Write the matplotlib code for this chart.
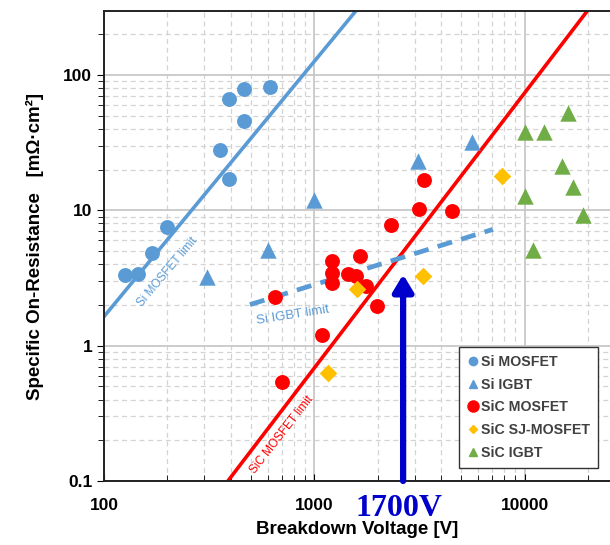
import matplotlib
matplotlib.use("Agg")
import matplotlib.pyplot as plt
from matplotlib.ticker import LogLocator, FixedLocator, NullFormatter
from matplotlib.lines import Line2D

plt.rcParams['font.family'] = ['Liberation Sans', 'DejaVu Sans']

# ---- data ----
si_mosfet_x = [126, 145, 169, 199, 356, 392, 392, 462, 462, 615]
si_mosfet_y = [3.3, 3.4, 4.8, 7.5, 28, 17, 66, 46, 79, 81]

si_igbt_x = [310, 600, 1000, 3100, 5600]
si_igbt_y = [3.2, 5.1, 12, 23, 32]

sic_mosfet_x = [650, 700, 1090, 1210, 1210, 1210, 1440, 1570, 1650, 1760, 1980, 2310, 3140, 3310, 4500]
sic_mosfet_y = [2.27, 0.54, 1.19, 4.19, 3.47, 2.88, 3.36, 3.25, 4.56, 2.78, 1.98, 7.74, 10.2, 16.7, 9.84]

sic_sj_x = [1160, 1590, 3280, 7780]
sic_sj_y = [0.63, 2.6, 3.25, 17.9]

sic_igbt_x = [10000, 12400, 16000, 10000, 15000, 16900, 18900, 10900]
sic_igbt_y = [37.8, 37.8, 52.3, 12.7, 21.2, 14.8, 9.3, 5.1]

si_mosfet_limit_x = [100, 1590]
si_mosfet_limit_y = [1.64, 303]
sic_mosfet_limit_x = [388, 19900]
sic_mosfet_limit_y = [0.1, 300]
si_igbt_limit_x = [494, 7050]
si_igbt_limit_y = [2.01, 7.23]

arrow_x = 2640
arrow_y = [0.1, 3.36]

x_ticks = [100, 1000, 10000]
x_ticklabels = ['100', '1000', '10000']
y_ticks = [0.1, 1, 10, 100]
y_ticklabels = ['0.1', '1', '10', '100']

BLUE = '#5B9BD5'
RED = '#FF0000'
YELLOW = '#FFC000'
GREEN = '#70AD47'

fig = plt.figure(figsize=(6.10, 5.45), dpi=100)
ax = fig.add_axes([104/610, 1-481/545, 1-104/610, (481-11)/545])
ax.set_xscale('log')
ax.set_yscale('log')
ax.set_xlim(100, 25400)
ax.set_ylim(0.1, 297)

# grid
ax.set_axisbelow(True)
ax.grid(True, which='major', color='#C8C8C8', lw=1.3, ls='-')
ax.grid(True, which='minor', color='#D3D3D3', lw=0.9, ls=(0, (4, 3)))

# limit lines
ax.plot(si_mosfet_limit_x, si_mosfet_limit_y, color=BLUE, lw=2.6, zorder=2)
ax.plot(sic_mosfet_limit_x, sic_mosfet_limit_y, color=RED, lw=2.6, zorder=2)
ax.plot(si_igbt_limit_x, si_igbt_limit_y, color=BLUE, lw=3.4, ls=(0, (3.2, 2.0)), zorder=2)

# points
ax.scatter(si_mosfet_x, si_mosfet_y, s=115, marker='o', color=BLUE, zorder=3, linewidths=0)
ax.scatter(si_igbt_x, si_igbt_y, s=140, marker='^', color=BLUE, zorder=3, linewidths=0)
ax.scatter(sic_mosfet_x, sic_mosfet_y, s=115, marker='o', color=RED, zorder=3, linewidths=0)
ax.scatter(sic_sj_x, sic_sj_y, s=80, marker='D', color=YELLOW, zorder=3, linewidths=0)
ax.scatter(sic_igbt_x, sic_igbt_y, s=140, marker='^', color=GREEN, zorder=3, linewidths=0)

# line labels
ax.text(200, 3.5, 'Si MOSFET limit', color=BLUE, fontsize=8.5, rotation=50,
        ha='center', va='center', rotation_mode='anchor')
ax.text(790, 1.67, 'Si IGBT limit', color=BLUE, fontsize=9.5, rotation=9,
        ha='center', va='center', rotation_mode='anchor')
ax.text(700, 0.22, 'SiC MOSFET limit', color=RED, fontsize=8.5, rotation=52,
        ha='center', va='center', rotation_mode='anchor')

# arrow annotation
ax.annotate('', xy=(arrow_x, arrow_y[1]), xytext=(arrow_x, arrow_y[0]),
            arrowprops=dict(arrowstyle='-|>,head_length=1.0,head_width=0.6',
                            color='#0000CC', lw=4.5, shrinkA=0, shrinkB=0),
            annotation_clip=False, zorder=5)
ax.annotate('1700V', xy=(arrow_x, 0.1), xytext=(-3, -9), textcoords='offset points',
            color='#0000CC', fontsize=23, fontweight='bold',
            family=['Liberation Serif', 'DejaVu Serif'],
            ha='center', va='top', annotation_clip=False)

# axes styling
ax.xaxis.set_major_locator(FixedLocator(x_ticks))
ax.set_xticklabels(x_ticklabels)
ax.yaxis.set_major_locator(FixedLocator(y_ticks))
ax.set_yticklabels(y_ticklabels)
ax.xaxis.set_minor_locator(LogLocator(base=10, subs=range(2, 10)))
ax.yaxis.set_minor_locator(LogLocator(base=10, subs=range(2, 10)))
ax.xaxis.set_minor_formatter(NullFormatter())
ax.yaxis.set_minor_formatter(NullFormatter())
ax.tick_params(axis='x', which='both', direction='in', labelsize=12.5, pad=12)
ax.tick_params(axis='x', which='major', length=5)
ax.tick_params(axis='x', which='minor', length=4)
ax.tick_params(axis='y', which='both', direction='out', labelsize=12.5)
ax.tick_params(axis='y', which='major', length=5)
ax.tick_params(axis='y', which='minor', length=4)
for lbl in ax.get_xticklabels() + ax.get_yticklabels():
    lbl.set_fontweight('bold')
for sp in ['left', 'bottom', 'top']:
    ax.spines[sp].set_color('#222222')
    ax.spines[sp].set_linewidth(1.4)
ax.spines['right'].set_visible(False)

ax.set_xlabel('Breakdown Voltage [V]', fontsize=13.5, fontweight='bold', labelpad=6)
ax.set_ylabel('Specific On-Resistance   [mΩ·cm²]', fontsize=13.5, fontweight='bold', labelpad=14)

# legend
handles = [
    Line2D([], [], ls='', marker='o', color=BLUE, ms=6),
    Line2D([], [], ls='', marker='^', color=BLUE, ms=6),
    Line2D([], [], ls='', marker='o', color=RED, ms=8),
    Line2D([], [], ls='', marker='D', color=YELLOW, ms=4.5),
    Line2D([], [], ls='', marker='^', color=GREEN, ms=6),
]
labels = ['Si MOSFET', 'Si IGBT', 'SiC MOSFET', 'SiC SJ-MOSFET', 'SiC IGBT']
leg = ax.legend(handles, labels, loc='upper left', bbox_to_anchor=((459-104)/506, (481-347)/470),
                frameon=True, fancybox=False, edgecolor='#333333', framealpha=1,
                handlelength=0.9, handletextpad=0.1, labelspacing=0.62,
                borderpad=0.55, borderaxespad=0,
                prop={'weight': 'bold', 'size': 10.2})
for t in leg.get_texts():
    t.set_color('#404040')
leg.get_frame().set_linewidth(1.0)

fig.savefig('out.png', dpi=100)
